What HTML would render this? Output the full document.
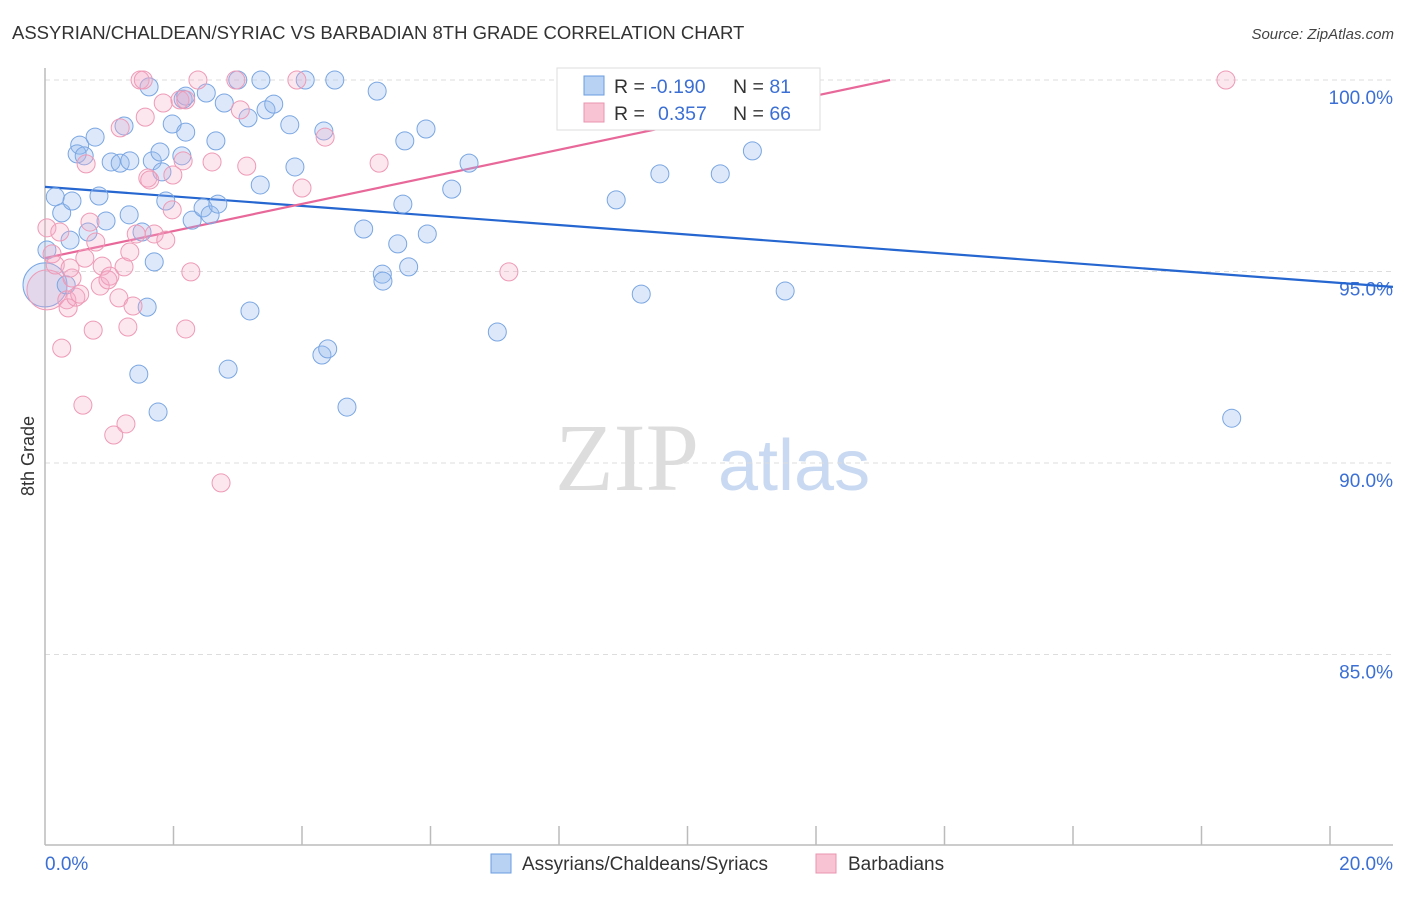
<!DOCTYPE html>
<html><head><meta charset="utf-8"><style>
body{margin:0;background:#fff;font-family:"Liberation Sans",sans-serif;}
</style></head><body>
<svg id="chart" width="1406" height="892" xmlns="http://www.w3.org/2000/svg" font-family="Liberation Sans, sans-serif">
<text x="12" y="39" font-size="18.5" fill="#333">ASSYRIAN/CHALDEAN/SYRIAC VS BARBADIAN 8TH GRADE CORRELATION CHART</text>
<text x="1394" y="39" font-size="15" fill="#444" font-style="italic" text-anchor="end">Source: ZipAtlas.com</text>
<text transform="translate(34,456) rotate(-90)" font-size="18" fill="#333" text-anchor="middle">8th Grade</text>
<g>
<text x="555" y="490" font-size="96" fill="#ddd" font-family="Liberation Serif, serif">ZIP</text>
<text x="718" y="490" font-size="72" fill="#c9d9f2">atlas</text>
</g>
<g id="grid"></g>
<g id="axes"></g>
<g id="lines"></g>
<g id="pts"></g>
<g>
<rect x="557" y="68" width="263" height="62" fill="#fff" stroke="#ddd"/>
<rect x="584" y="76" width="20" height="19" fill="#b8d2f4" stroke="#6a9ce0"/>
<rect x="584" y="103" width="20" height="19" fill="#f8c4d4" stroke="#eb94b0"/>
<text x="614" y="93" font-size="19.5" fill="#333">R = <tspan fill="#3b6fd4">-0.190</tspan></text>
<text x="733" y="93" font-size="19.5" fill="#333">N = <tspan fill="#3b6fd4"> 81</tspan></text>
<text x="614" y="120" font-size="19.5" fill="#333">R = <tspan fill="#3b6fd4" x="658">0.357</tspan></text>
<text x="733" y="120" font-size="19.5" fill="#333">N = <tspan fill="#3b6fd4">66</tspan></text>
</g>
<g>
<rect x="491" y="854" width="20" height="19" fill="#b8d2f4" stroke="#6a9ce0"/>
<text x="522" y="870" font-size="19" fill="#333">Assyrians/Chaldeans/Syriacs</text>
<rect x="816" y="854" width="20" height="19" fill="#f8c4d4" stroke="#eb94b0"/>
<text x="848" y="870" font-size="19" fill="#333">Barbadians</text>
</g>
</svg>
<script>
const yTicks=[100,95,90,85];
const yTickLabels=["100.0%","95.0%","90.0%","85.0%"];
const xTickCount=10;
const xLabels=["0.0%","20.0%"];
const blueX=[0.16,0.26,0.42,0.33,0.39,0.54,0.50,0.61,0.78,0.84,0.67,0.95,1.03,1.17,1.23,1.31,1.32,1.51,1.59,1.46,1.62,1.67,1.70,1.76,1.79,1.82,1.88,1.98,2.13,2.15,2.19,2.19,2.29,2.46,2.51,2.57,2.66,2.69,2.79,2.85,3.00,3.16,3.19,3.35,3.36,3.44,3.56,3.81,3.89,4.05,4.31,4.34,4.40,4.51,4.70,4.96,5.17,5.25,5.26,5.49,5.57,5.60,5.66,5.93,5.95,6.33,6.60,7.04,8.89,9.28,9.57,10.51,11.01,11.52,18.47,0.03];
const blueY=[96.95,96.53,96.84,94.65,95.82,98.30,98.07,98.02,98.51,96.97,96.03,96.32,97.86,97.83,98.80,96.48,97.89,96.03,94.07,92.32,99.82,97.89,95.25,91.33,98.12,97.60,96.84,98.85,98.02,99.50,98.64,99.58,96.34,96.66,99.66,96.48,98.41,96.76,99.40,92.45,100.0,99.01,93.97,97.26,100.0,99.22,99.37,98.83,97.73,100.0,92.82,98.67,92.98,100.0,91.46,96.11,99.71,94.93,94.75,95.72,96.76,98.41,95.12,98.72,95.98,97.15,97.83,93.42,96.87,94.41,97.55,97.55,98.15,94.49,91.17,95.56];
const pinkX=[0.03,0.11,0.16,0.23,0.34,0.36,0.26,0.42,0.48,0.54,0.59,0.64,0.70,0.75,0.79,0.86,0.89,1.01,1.07,1.15,1.17,1.23,1.26,1.29,1.32,1.37,1.42,1.48,1.53,1.56,1.60,1.63,1.70,1.84,1.88,1.98,1.99,2.10,2.15,2.19,2.19,2.27,2.38,2.60,2.74,2.97,3.04,3.14,3.92,4.00,4.36,5.20,7.22,18.38,0.98,0.62,0.39];
const pinkY=[96.14,95.46,95.17,96.03,94.26,94.05,93.00,94.83,94.33,94.41,91.51,97.81,96.29,93.47,95.77,94.62,95.14,94.88,90.73,94.31,98.75,95.12,91.02,93.55,95.51,94.10,95.98,100,100,99.03,97.44,97.39,95.98,99.40,95.82,96.61,97.52,99.48,97.89,93.50,99.48,94.99,100,97.86,89.48,100,99.22,97.75,100,97.18,98.51,97.83,94.99,100,94.78,95.35,95.09];
const bigBlue=[0.0,94.65];
const bigPink=[0.03,94.52];
const blueTrend=[97.21,-0.1245];
const pinkTrend=[95.35,0.3535];

const NS="http://www.w3.org/2000/svg";
const X0=45,X1=1330,YTOP=80,YPX=38.3;
function sx(v){return X0+(v/20)*(X1-X0);}
function sy(v){return YTOP+(100-v)*YPX;}
function mk(tag,attrs,parent){const e=document.createElementNS(NS,tag);for(const k in attrs)e.setAttribute(k,attrs[k]);parent.appendChild(e);return e;}
const grid=document.getElementById('grid'),axes=document.getElementById('axes'),lines=document.getElementById('lines'),pts=document.getElementById('pts');
yTicks.forEach((t,i)=>{
 const l=mk('line',{x1:45,x2:1393,y1:sy(t),y2:sy(t),stroke:'#ddd','stroke-dasharray':'5,4'},grid);
 
 
 const tx=mk('text',{x:1393,y:sy(t)+24,'font-size':19,fill:'#3b6fd4','text-anchor':'end'},grid);
 tx.textContent=yTickLabels[i];
 
 
});
const ya=mk('line',{x1:45,x2:45,y1:68,y2:845,stroke:'#bbb','stroke-width':1.5},axes);


const xa=mk('line',{x1:45,x2:1393,y1:845,y2:845,stroke:'#bbb','stroke-width':1.5},axes);


for(let i=1;i<=xTickCount;i++){
 const v=i*20/xTickCount;
 const t=mk('line',{x1:sx(v),x2:sx(v),y1:826,y2:845,stroke:'#bbb','stroke-width':1.5},axes);
 
 
}
const xl0=mk('text',{x:45,y:870,'font-size':19,fill:'#3b6fd4'},axes);xl0.textContent=xLabels[0];


const xl1=mk('text',{x:1393,y:870,'font-size':19,fill:'#3b6fd4','text-anchor':'end'},axes);xl1.textContent=xLabels[1];


function dot(x,y,r,c,name){
 const e=mk('circle',{cx:sx(x),cy:sy(y),r:r,fill:c[0],stroke:c[1],'stroke-width':1},pts);
 
 
}
const BC=['rgba(150,188,238,0.32)','#7aa6e2'],PC=['rgba(246,170,196,0.28)','#ee9ab6'];
dot(bigBlue[0],bigBlue[1],22,BC,'point-assyrians-large');
dot(bigPink[0],bigPink[1],20,PC,'point-barbadians-large');
blueX.forEach((x,i)=>dot(x,blueY[i],9,BC,'point-assyrians'));
pinkX.forEach((x,i)=>dot(x,pinkY[i],9,PC,'point-barbadians'));
const bx2=20.98;
const bl=mk('line',{x1:sx(0),y1:sy(blueTrend[0]),x2:sx(bx2),y2:sy(blueTrend[0]+blueTrend[1]*bx2),stroke:'#2566d0','stroke-width':2.2},lines);


const px2=(100-pinkTrend[0])/pinkTrend[1];
const pl=mk('line',{x1:sx(0),y1:sy(pinkTrend[0]),x2:sx(px2),y2:sy(100),stroke:'#e8689a','stroke-width':2.2},lines);


</script>
</body></html>
